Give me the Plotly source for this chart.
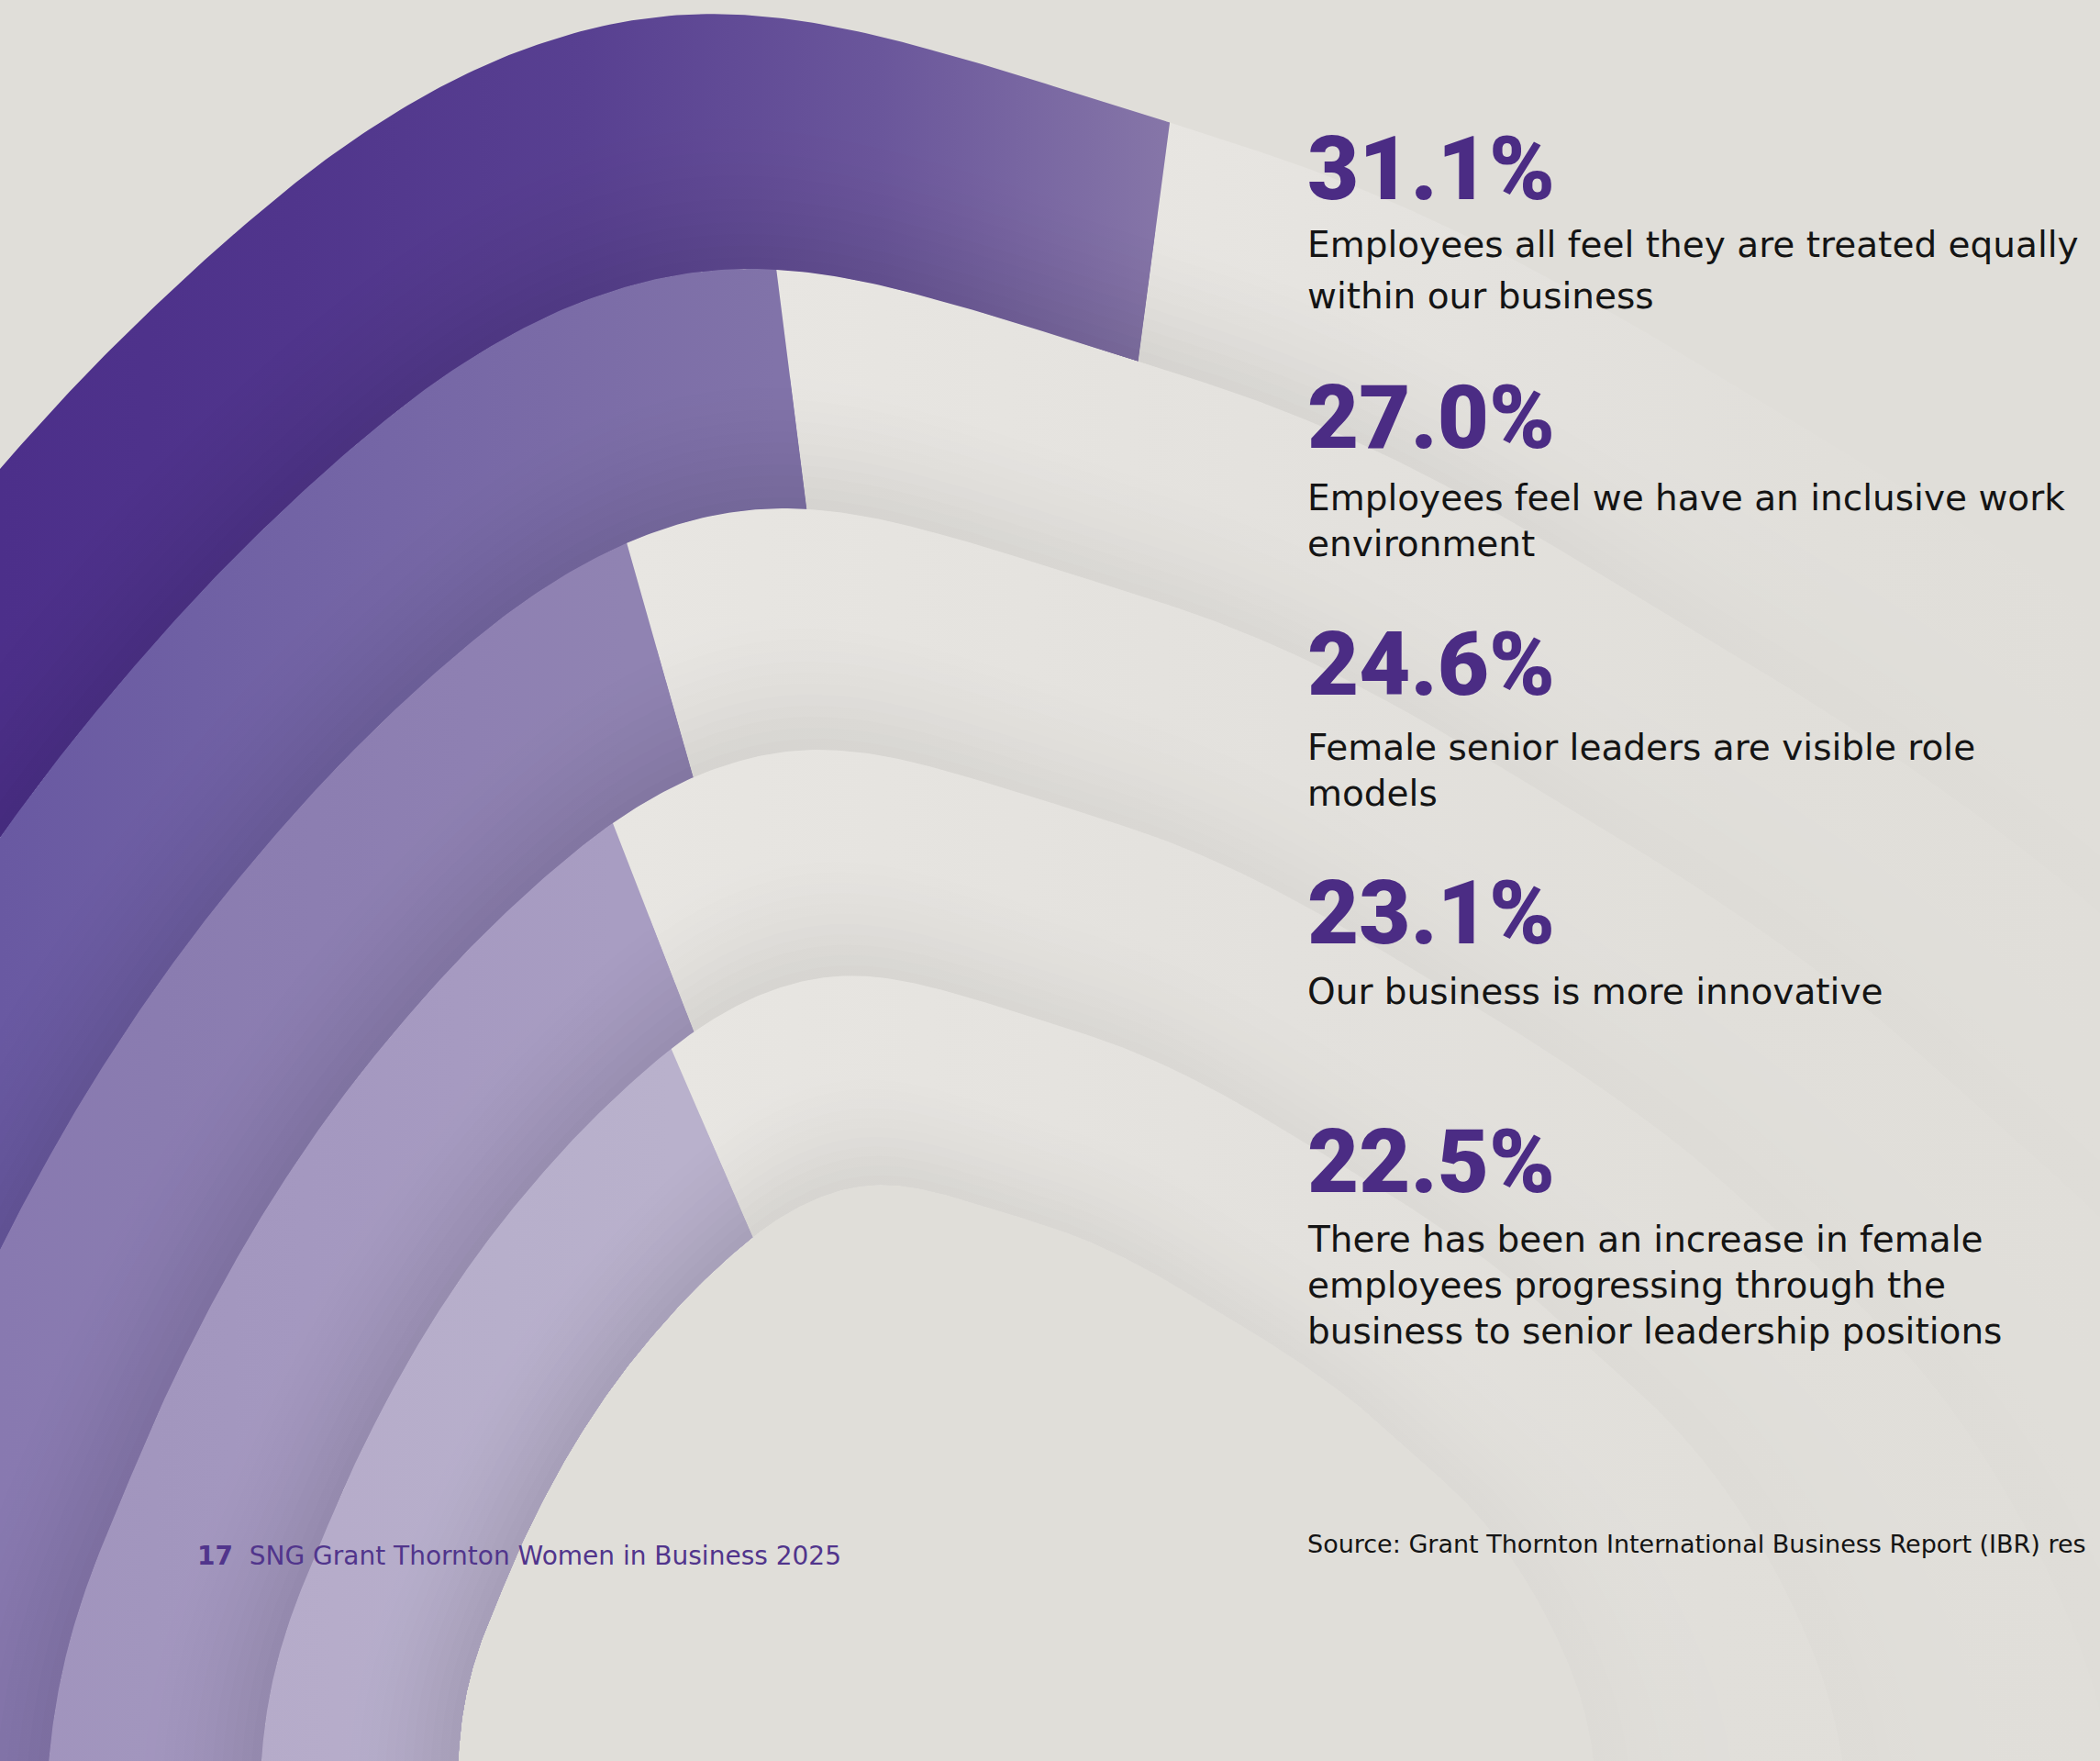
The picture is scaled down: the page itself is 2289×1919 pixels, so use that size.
import numpy as np
import plotly.graph_objects as go

# ---------------- data ----------------
values = [31.1, 27.0, 24.6, 23.1, 22.5]
value_labels = ["31.1%", "27.0%", "24.6%", "23.1%", "22.5%"]
description_lines = [
    ["Employees all feel they are treated equally", "within our business"],
    ["Employees feel we have an inclusive work", "environment"],
    ["Female senior leaders are visible role", "models"],
    ["Our business is more innovative"],
    ["There has been an increase in female",
     "employees progressing through the",
     "business to senior leadership positions"],
]
page_number = "17"
footer_title = "SNG Grant Thornton Women in Business 2025"
source_note = "Source: Grant Thornton International Business Report (IBR) res"

# ---------------- page + ring geometry (style) ----------------
W, H = 2289, 1919
BG = "#e0ded9"
CX, CY = 1045.0, 1867.0          # centre the radial bars grow around
ZERO_DEG = -104.4                # direction of 0 % (clockwise from "up")
DEG_PER_PCT = 3.6                # 100 % = full turn
BOUNDARY_SCALE = [1.0, 0.85, 0.709, 0.567, 0.434, 0.311]   # ring edges, outer -> inner
# outline of the (tilted) outer ring as radius per direction
OUTLINE_DEG = [-180, -140, -115, -104, -95, -88, -81, -75, -68, -62, -55, -48, -42, -38,
               -33, -28, -23, -19, -15, -12, -9, -6, -2, 2, 7, 13, 18, 25, 32, 38, 46,
               53, 60, 70, 80, 90, 110, 140]
OUTLINE_R = [2300, 2100, 1850, 1800, 1760, 1730, 1690, 1655, 1640, 1635, 1643, 1662, 1688,
             1708, 1742, 1778, 1822, 1855, 1876, 1884, 1880, 1862, 1822, 1785, 1748, 1725,
             1705, 1682, 1672, 1685, 1722, 1772, 1825, 1960, 2080, 2200, 2350, 2400]

BAND_SCALES = [
    [[0, "#4c2f8a"], [0.4, "#52388d"], [0.7, "#654f98"], [1, "#8676a8"]],
    [[0, "#6959a2"], [1, "#8173a9"]],
    [[0, "#8879b0"], [1, "#9083b2"]],
    [[0, "#a093bd"], [1, "#a89dc2"]],
    [[0, "#b2a8c8"], [1, "#b9b1cc"]],
]
TRACK_SCALE = [[0, "#e9e7e3"], [0.45, "#e4e2de"], [0.8, "#e0ded9"], [1, "#e0ded9"]]
TRACK_FADE = [1.0, 0.7, 0.4, 0.15, 0.04]        # shading strength along the track (left -> right)
NUM_COLOR = "#4b2c84"
TEXT_COLOR = "#141414"
N_SHADE, SHADE_SPAN, SHADE_MAX = 12, 0.55, 0.09

grid = np.arange(-180.0, 180.0, 0.5)
raw = np.interp(grid, OUTLINE_DEG, OUTLINE_R, period=360)
k = 17
padded = np.concatenate([raw[-k:], raw, raw[:k]])
smooth = np.convolve(padded, np.ones(k) / k, mode="same")[k:-k]


def outline(theta):
    return np.interp(theta, grid, smooth, period=360)


def to_xy(theta, r):
    t = np.radians(theta)
    return CX + r * np.sin(t), CY - r * np.cos(t)


def band_path(s_out, s_in, t0, t1, step=0.25):
    n = max(int(np.ceil((t1 - t0) / step)), 2)
    th = np.linspace(t0, t1, n + 1)
    base = outline(th)
    xo, yo = to_xy(th, base * s_out)
    xi, yi = to_xy(th[::-1], base[::-1] * s_in)
    return np.concatenate([xo, xi, xo[:1]]), np.concatenate([yo, yi, yo[:1]])


def hex2rgb(h):
    h = h.lstrip("#")
    return np.array([int(h[i:i + 2], 16) for i in (0, 2, 4)], dtype=float)


def color_at(scale, p):
    pos = [s[0] for s in scale]
    cols = np.array([hex2rgb(s[1]) for s in scale])
    return np.array([np.interp(p, pos, cols[:, c]) for c in range(3)])


def rgb_str(c):
    c = np.clip(np.round(c), 0, 255).astype(int)
    return f"rgb({c[0]},{c[1]},{c[2]})"


STOPS = [0, 0.25, 0.5, 0.75, 1]


def shaded_scale(scale, d, fade=None):
    fade = fade or [1.0] * len(STOPS)
    return [[p, rgb_str(color_at(scale, p) * (1 - d * f))] for p, f in zip(STOPS, fade)]


def add_poly(x, y, scale, start, stop):
    fig.add_trace(go.Scatter(
        x=x, y=y, mode="lines", line=dict(width=0), fill="toself",
        fillgradient=dict(type="horizontal", start=start, stop=stop, colorscale=scale),
        hoverinfo="skip", showlegend=False))


fig = go.Figure()
END_DEG = ZERO_DEG + 360

for i, v in enumerate(values):
    cut = ZERO_DEG + DEG_PER_PCT * v
    so, si = BOUNDARY_SCALE[i], BOUNDARY_SCALE[i + 1]
    cut_x = float(to_xy(cut, outline(cut) * so)[0])
    t_start = cut_x - 150
    # base fills: value arc + remaining track
    x, y = band_path(so, si, cut, END_DEG)
    add_poly(x, y, shaded_scale(TRACK_SCALE, 0), t_start, W)
    x, y = band_path(so, si, ZERO_DEG, cut)
    add_poly(x, y, shaded_scale(BAND_SCALES[i], 0), 0, cut_x)
    # soft shading toward the inner edge (opaque nested strips)
    for kk in range(N_SHADE):
        frac = SHADE_SPAN * (1 - kk / N_SHADE)
        d = SHADE_MAX * ((kk + 1) / N_SHADE) ** 1.5
        s_mid = si + (so - si) * frac
        x, y = band_path(s_mid, si, cut, END_DEG, step=0.5)
        add_poly(x, y, shaded_scale(TRACK_SCALE, d, TRACK_FADE), t_start, W)
        x, y = band_path(s_mid, si, ZERO_DEG, cut, step=0.5)
        add_poly(x, y, shaded_scale(BAND_SCALES[i], d), 0, cut_x)


def add_text(x, baseline, text, size, color, family, weight=400):
    fig.add_annotation(
        x=x, y=baseline - 0.35 * size, xref="x", yref="y", text=text, showarrow=False,
        xanchor="left", yanchor="middle", align="left",
        font=dict(family=family, size=size, color=color, weight=weight))


TEXT_X = 1423
NUM_BASE = [218, 489, 758, 1029, 1300]
DESC_BASE = [[280, 336], [556, 606], [828, 878], [1094], [1364, 1414, 1464]]
for lab, nb, lines, bases in zip(value_labels, NUM_BASE, description_lines, DESC_BASE):
    add_text(TEXT_X, nb, lab, 97, NUM_COLOR, "Roboto", 900)
    for ln, b in zip(lines, bases):
        add_text(TEXT_X, b, ln, 39, TEXT_COLOR, "DejaVu Sans")

add_text(TEXT_X, 1692, source_note, 27, TEXT_COLOR, "DejaVu Sans")
add_text(213, 1705, f"<b>{page_number}</b>  {footer_title}", 28, "#51358c", "DejaVu Sans")

fig.update_layout(
    width=W, height=H, margin=dict(l=0, r=0, t=0, b=0),
    paper_bgcolor=BG, plot_bgcolor=BG, showlegend=False,
    xaxis=dict(range=[0, W], visible=False, fixedrange=True),
    yaxis=dict(range=[H, 0], visible=False, fixedrange=True),
)
fig.write_html("out.html")
